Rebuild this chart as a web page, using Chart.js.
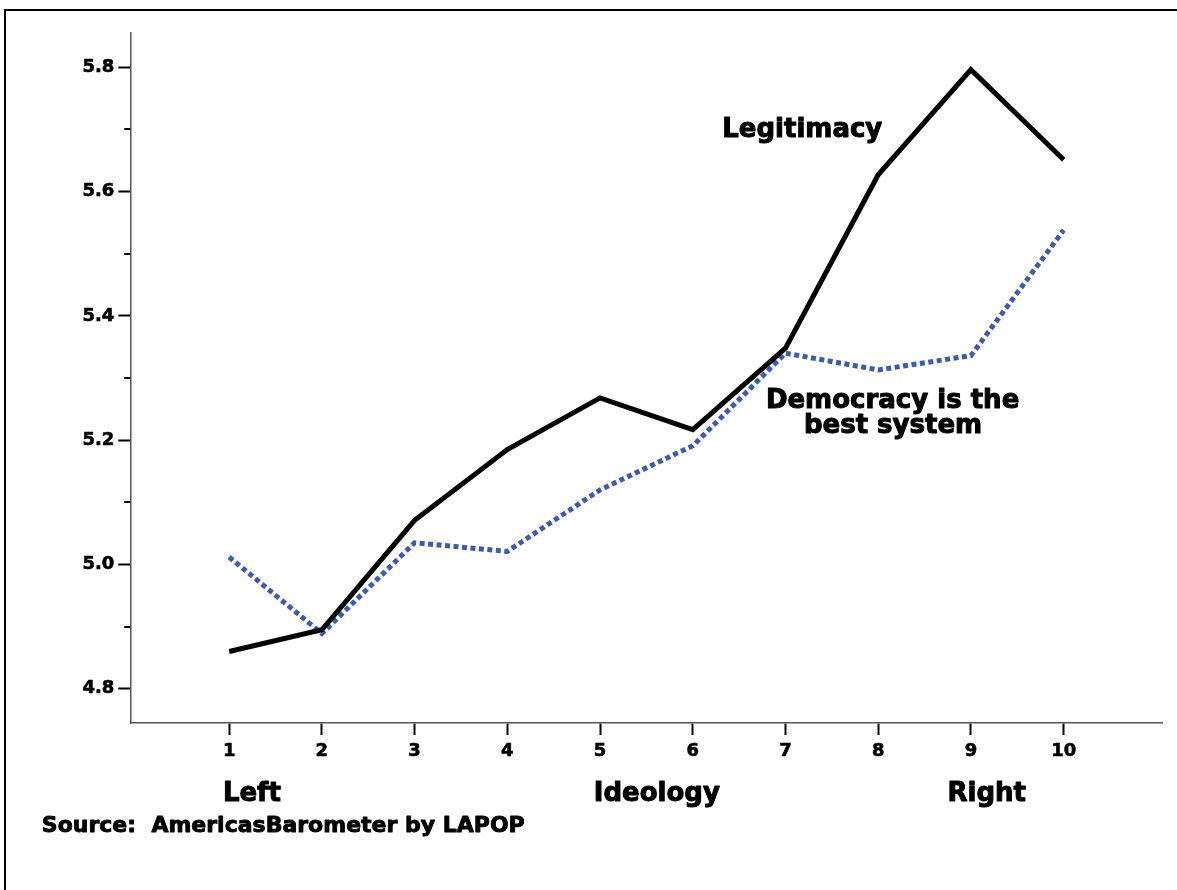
<!DOCTYPE html>
<html lang="en">
<head>
    <meta charset="UTF-8">
    <title>Legitimacy and support for democracy by ideology</title>
    <script src="https://cdn.jsdelivr.net/npm/chart.js"></script>
    <style>
        body {
            margin: 0;
            background: #fff;
            overflow: hidden;
        }
        #frame {
            position: absolute;
            left: 4px;
            top: 9px;
            width: 1300px;
            height: 1000px;
            border-top: 2.5px solid #000;
            border-left: 2.5px solid #000;
        }
        #ideologyChart {
            position: absolute;
            left: 0;
            top: 0;
        }
    </style>
</head>
<body>
    <div id="frame"></div>
    <canvas id="ideologyChart" width="1177" height="890"></canvas>

    <script>
        // ideology scale, 1 = left ... 10 = right
        const ideology = [1, 2, 3, 4, 5, 6, 7, 8, 9, 10];
        const legitimacy = [4.860, 4.895, 5.071, 5.185, 5.268, 5.217, 5.348, 5.627, 5.796, 5.651];
        const democracyBest = [5.012, 4.889, 5.035, 5.021, 5.120, 5.191, 5.340, 5.313, 5.336, 5.538];

        const yTicks = [4.8, 5.0, 5.2, 5.4, 5.6, 5.8];
        const yMinorTicks = [4.9, 5.1, 5.3, 5.5, 5.7];

        // text labels placed in data coordinates
        const labelText = ['Legitimacy', 'Democracy is the', 'best system', 'Left', 'Ideology', 'Right'];
        const labelX = [7.181, 8.155, 8.16, 1.245, 5.612, 9.17];
        const labelY = [5.699, 5.262, 5.223, 4.630, 4.630, 4.630];
        const sourceText = 'Source:  AmericasBarometer by LAPOP';
        const sourceX = -1.02;
        const sourceY = 4.579;

        const font = "'DejaVu Sans', 'Liberation Sans', sans-serif";

        // draws text a bit heavier (the original uses a black face)
        function heavyText(ctx, t, x, y) {
            ctx.strokeText(t, x, y);
            ctx.fillText(t, x, y);
        }

        // minor ticks on the y axis + text labels
        const extrasPlugin = {
            id: 'extras',
            afterDraw(chart) {
                const ctx = chart.ctx;
                const xs = chart.scales.x;
                const ys = chart.scales.y;
                ctx.save();
                ctx.strokeStyle = '#000';
                ctx.lineWidth = 2;
                yMinorTicks.forEach(v => {
                    const py = Math.round(ys.getPixelForValue(v));
                    ctx.beginPath();
                    ctx.moveTo(ys.right - 6, py);
                    ctx.lineTo(ys.right, py);
                    ctx.stroke();
                });

                ctx.fillStyle = '#000';
                ctx.lineWidth = 1.0;
                ctx.lineJoin = 'round';
                ctx.font = 'bold 26px ' + font;
                ctx.textAlign = 'center';
                ctx.textBaseline = 'middle';
                labelText.forEach((t, i) => {
                    heavyText(ctx, t, xs.getPixelForValue(labelX[i]), ys.getPixelForValue(labelY[i]));
                });

                ctx.font = 'bold 22px ' + font;
                ctx.lineWidth = 0.9;
                ctx.textAlign = 'left';
                heavyText(ctx, sourceText, xs.getPixelForValue(sourceX), ys.getPixelForValue(sourceY));
                ctx.restore();
            }
        };

        const tickFont = { family: font, weight: 'bold', size: 18 };

        const ctx = document.getElementById('ideologyChart').getContext('2d');
        new Chart(ctx, {
            type: 'line',
            data: {
                datasets: [{
                    label: 'Legitimacy',
                    data: ideology.map((x, i) => ({ x: x, y: legitimacy[i] })),
                    borderColor: '#000',
                    borderWidth: 5,
                    pointRadius: 0,
                    tension: 0,
                    fill: false
                }, {
                    label: 'Democracy is the best system',
                    data: ideology.map((x, i) => ({ x: x, y: democracyBest[i] })),
                    borderColor: '#3d5aae',
                    borderWidth: 5,
                    borderDash: [5, 3.5],
                    borderCapStyle: 'butt',
                    pointRadius: 0,
                    tension: 0,
                    fill: false
                }]
            },
            options: {
                responsive: false,
                animation: false,
                devicePixelRatio: 1,
                layout: {
                    padding: { top: 33, right: 14.5, left: 0, bottom: 0 }
                },
                plugins: {
                    legend: { display: false },
                    tooltip: { enabled: false }
                },
                scales: {
                    x: {
                        type: 'linear',
                        min: -0.066,
                        max: 11.066,
                        afterBuildTicks: scale => {
                            scale.ticks = ideology.map(v => ({ value: v }));
                        },
                        afterFit: scale => {
                            scale.height = 167;
                        },
                        grid: {
                            drawOnChartArea: false,
                            drawTicks: true,
                            tickLength: 12,
                            tickColor: '#000',
                            tickWidth: 2
                        },
                        border: { color: '#555', width: 1.5 },
                        ticks: {
                            color: '#000',
                            textStrokeColor: '#000',
                            textStrokeWidth: 0.6,
                            padding: 6,
                            maxRotation: 0,
                            autoSkip: false,
                            font: tickFont,
                            callback: v => String(v)
                        }
                    },
                    y: {
                        min: 4.745,
                        max: 5.855,
                        afterBuildTicks: scale => {
                            scale.ticks = yTicks.map(v => ({ value: v }));
                        },
                        afterFit: scale => {
                            scale.width = 130.3;
                        },
                        grid: {
                            drawOnChartArea: false,
                            drawTicks: true,
                            tickLength: 12,
                            tickColor: '#000',
                            tickWidth: 2
                        },
                        border: { color: '#555', width: 1.5 },
                        ticks: {
                            color: '#000',
                            textStrokeColor: '#000',
                            textStrokeWidth: 0.6,
                            padding: 4,
                            font: tickFont,
                            callback: v => v.toFixed(1)
                        }
                    }
                }
            },
            plugins: [extrasPlugin]
        });
    </script>
</body>
</html>
